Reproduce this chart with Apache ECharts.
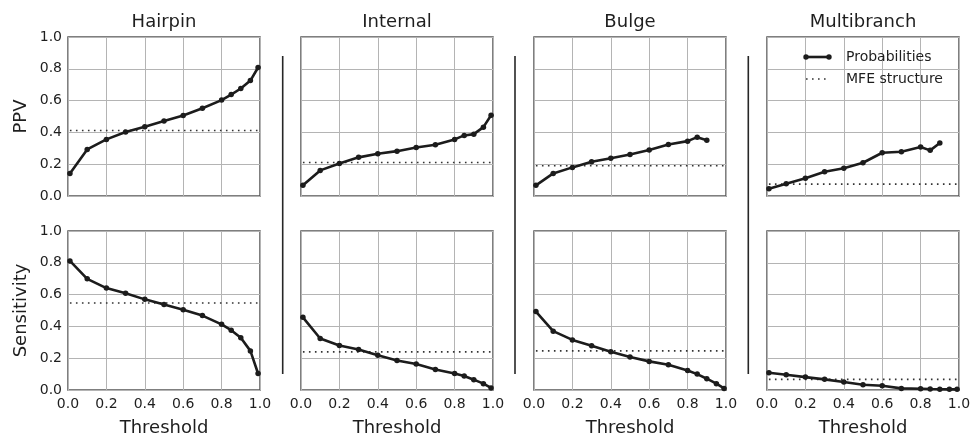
<!DOCTYPE html>
<html>
<head>
<meta charset="utf-8">
<script src="https://cdn.jsdelivr.net/npm/echarts@6/dist/echarts.min.js"></script>
<style>html,body{margin:0;padding:0;background:#fff}#c{width:974px;height:439px}</style>
</head>
<body>
<div id="c"></div>
<script>
const categories = ['Hairpin', 'Internal', 'Bulge', 'Multibranch'];
const thresholds = [0.01, 0.1, 0.2, 0.3, 0.4, 0.5, 0.6, 0.7, 0.8, 0.85, 0.9, 0.95, 0.99];
const tickLabels = ['0.0', '0.2', '0.4', '0.6', '0.8', '1.0'];

const hairpinPPV = [0.142, 0.293, 0.356, 0.402, 0.435, 0.471, 0.506, 0.552, 0.603, 0.638, 0.676, 0.726, 0.808];
const internalPPV = [0.067, 0.161, 0.205, 0.243, 0.266, 0.282, 0.305, 0.322, 0.356, 0.381, 0.389, 0.433, 0.508];
const bulgePPV = [0.067, 0.142, 0.180, 0.215, 0.238, 0.261, 0.289, 0.324, 0.345, 0.370, 0.351];
const multibranchPPV = [0.046, 0.077, 0.111, 0.153, 0.174, 0.209, 0.272, 0.278, 0.308, 0.287, 0.333];

const hairpinSens = [0.812, 0.699, 0.641, 0.608, 0.570, 0.537, 0.505, 0.468, 0.413, 0.376, 0.328, 0.246, 0.104];
const internalSens = [0.457, 0.324, 0.280, 0.255, 0.219, 0.186, 0.163, 0.129, 0.104, 0.088, 0.065, 0.040, 0.013];
const bulgeSens = [0.493, 0.370, 0.315, 0.278, 0.240, 0.207, 0.180, 0.159, 0.123, 0.100, 0.071, 0.040, 0.010];
const multibranchSens = [0.109, 0.096, 0.081, 0.067, 0.050, 0.033, 0.027, 0.010, 0.008, 0.006, 0.005, 0.004, 0.004];

const mfePPV = [0.412, 0.211, 0.190, 0.075];
const mfeSens = [0.547, 0.240, 0.246, 0.067];

const rowNames = ['PPV', 'Sensitivity'];
const legendNames = ['Probabilities', 'MFE structure'];

const ppvSeries = [hairpinPPV, internalPPV, bulgePPV, multibranchPPV];
const sensSeries = [hairpinSens, internalSens, bulgeSens, multibranchSens];

const FONT = 'DejaVu Sans';
const TXT = '#1e1e1e';
const lefts = [68, 301, 534, 767];
const W = 192;
const tops = [37, 231];
const H = 159;

const grids = [], xAxes = [], yAxes = [], series = [], graphics = [];
let idx = 0;
for (let r = 0; r < 2; r++) {
  for (let c = 0; c < 4; c++) {
    grids.push({left: lefts[c], top: tops[r], width: W, height: H, show: true,
      borderColor: '#555', borderWidth: 1.5, backgroundColor: 'transparent'});
    xAxes.push({type: 'value', gridIndex: idx, min: 0, max: 1, interval: 0.2,
      axisLine: {show: false}, axisTick: {show: false},
      splitLine: {show: true, lineStyle: {color: '#b4b4b4', width: 1}},
      axisLabel: {show: r === 1, fontFamily: FONT, fontSize: 14, color: TXT, margin: 7,
        showMinLabel: true, showMaxLabel: true, hideOverlap: false,
        formatter: v => tickLabels[Math.round(v * 5)]},
      name: r === 1 ? 'Threshold' : '', nameLocation: 'middle', nameGap: 29,
      nameTextStyle: {fontFamily: FONT, fontSize: 18, color: TXT}});
    yAxes.push({type: 'value', gridIndex: idx, min: 0, max: 1, interval: 0.2,
      axisLine: {show: false}, axisTick: {show: false},
      splitLine: {show: true, lineStyle: {color: '#b4b4b4', width: 1}},
      axisLabel: {show: c === 0, fontFamily: FONT, fontSize: 14, color: TXT, margin: 6,
        showMinLabel: true, showMaxLabel: true, hideOverlap: false,
        formatter: v => tickLabels[Math.round(v * 5)]},
      name: c === 0 ? rowNames[r] : '', nameLocation: 'middle', nameGap: 38,
      nameTextStyle: {fontFamily: FONT, fontSize: 18, color: TXT}});
    const vals = r === 0 ? ppvSeries[c] : sensSeries[c];
    const mfe = r === 0 ? mfePPV[c] : mfeSens[c];
    series.push({type: 'line', name: legendNames[1], xAxisIndex: idx, yAxisIndex: idx,
      data: [[thresholds[0], mfe], [thresholds[thresholds.length - 1], mfe]],
      symbol: 'none', silent: true, z: 3,
      lineStyle: {color: '#333', width: 1.6, type: [1.6, 4.4]}});
    series.push({type: 'line', name: legendNames[0], xAxisIndex: idx, yAxisIndex: idx,
      data: vals.map((v, i) => [thresholds[i], v]),
      symbol: 'circle', symbolSize: 5.5, silent: true, z: 4,
      itemStyle: {color: '#1c1c1c'},
      lineStyle: {color: '#1c1c1c', width: 2.6}});
    idx++;
  }
}

// Column titles
categories.forEach((name, c) => {
  graphics.push({type: 'text', x: lefts[c] + W / 2, y: 22,
    style: {text: name, fontFamily: FONT, fontSize: 18, fill: TXT, align: 'center', verticalAlign: 'middle'}});
});
// Separators
[282.7, 515, 748.3].forEach(x => {
  graphics.push({type: 'line', shape: {x1: x, y1: 56, x2: x, y2: 374},
    style: {stroke: '#262626', lineWidth: 1.6}});
});
// Legend
const lx1 = 806, lx2 = 829, ly1 = 57, ly2 = 79;
graphics.push({type: 'line', shape: {x1: lx1, y1: ly1, x2: lx2, y2: ly1}, style: {stroke: '#1c1c1c', lineWidth: 2.6}, z: 10});
graphics.push({type: 'circle', shape: {cx: lx1, cy: ly1, r: 2.7}, style: {fill: '#1c1c1c'}, z: 10});
graphics.push({type: 'circle', shape: {cx: lx2, cy: ly1, r: 2.7}, style: {fill: '#1c1c1c'}, z: 10});
graphics.push({type: 'line', shape: {x1: lx1, y1: ly2, x2: lx2, y2: ly2}, style: {stroke: '#333', lineWidth: 1.6, lineDash: [1.6, 4.4]}, z: 10});
graphics.push({type: 'text', x: 846, y: ly1, style: {text: legendNames[0], fontFamily: FONT, fontSize: 14, fill: TXT, verticalAlign: 'middle'}, z: 10});
graphics.push({type: 'text', x: 846, y: ly2, style: {text: legendNames[1], fontFamily: FONT, fontSize: 14, fill: TXT, verticalAlign: 'middle'}, z: 10});

const chart = echarts.init(document.getElementById('c'), null, {renderer: 'canvas'});
chart.setOption({
  animation: false,
  backgroundColor: '#fff',
  grid: grids, xAxis: xAxes, yAxis: yAxes, series: series, graphic: graphics
});
</script>
</body>
</html>
